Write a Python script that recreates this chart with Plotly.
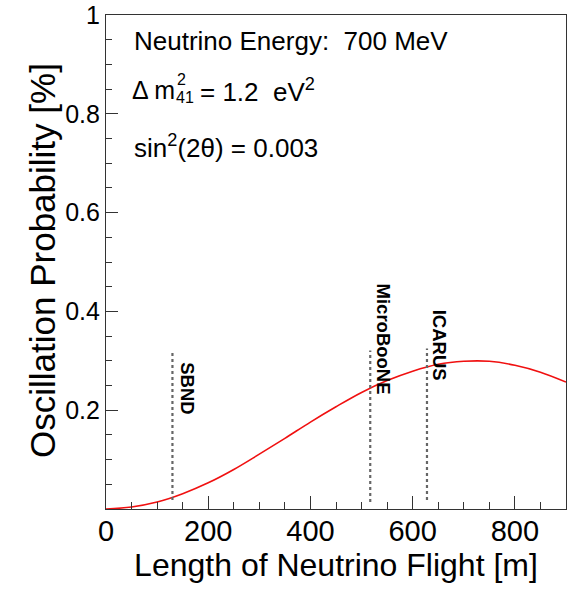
import plotly.graph_objects as go

# ---- data ----
flight_length_m = [0, 50, 100, 150, 200, 250, 300, 350, 400, 450, 500, 550,
                   600, 650, 700, 750, 800, 850, 900]
osc_prob_pct = [0.000, 0.004, 0.014, 0.031, 0.053, 0.080, 0.111, 0.143, 0.176,
                0.207, 0.236, 0.260, 0.279, 0.293, 0.299, 0.299, 0.291, 0.277, 0.257]

detectors = ["SBND", "MicroBooNE", "ICARUS"]
detector_baseline_m = [130, 517, 628]
detector_line_top = [0.317, 0.321, 0.325]
detector_line_bottom = [0.018, 0.014, 0.018]

x_tick_vals = [0, 200, 400, 600, 800]
x_tick_text = ["0", "200", "400", "600", "800"]
y_tick_vals = [0.2, 0.4, 0.6, 0.8, 1.0]
y_tick_text = ["0.2", "0.4", "0.6", "0.8", "1"]

FONT = "Liberation Sans, Arial, Helvetica, sans-serif"

# target plot area in page pixels (body margin removed below)
L, R, T, B = 106, 566, 15, 509
W, H = 583, 592


def fx(px):
    return (px - L) / (R - L)


def fy(py):
    return (B - py) / (B - T)


fig = go.Figure()

fig.add_trace(go.Scatter(
    x=flight_length_m, y=osc_prob_pct, mode="lines",
    line=dict(color="#f01010", width=1.6, shape="spline", smoothing=1.0),
    showlegend=False, hoverinfo="skip"))

label_dx = [29, 25, 25]
label_y = [0.244, 0.345, 0.331]
for name, xb, yt, yb, dx, ly in zip(detectors, detector_baseline_m, detector_line_top,
                                     detector_line_bottom, label_dx, label_y):
    fig.add_trace(go.Scatter(
        x=[xb, xb], y=[yb, yt], mode="lines",
        line=dict(color="#666666", width=2.2, dash="dot"),
        showlegend=False, hoverinfo="skip"))
    fig.add_annotation(x=xb + dx, y=ly, xref="x", yref="y", text="<b>%s</b>" % name,
                       textangle=90, showarrow=False,
                       font=dict(family=FONT, size=18.5, color="black"),
                       xanchor="center", yanchor="middle")

txt = dict(family=FONT, size=26, color="black")
small = dict(family=FONT, size=16, color="black")
annots = [
    (132, 41, "Neutrino Energy:\u00a0\u00a0700 MeV", txt),
    (130, 90, "\u0394 m", dict(family=FONT, size=25, color="black")),
    (175, 80, "2", small),
    (174, 98, "41", small),
    (198, 90, "= 1.2\u00a0\u00a0eV<sup>2</sup>", txt),
    (132, 146, "sin<sup>2</sup>(2\u03b8) = 0.003", txt),
]
for px, py, t, f in annots:
    fig.add_annotation(x=fx(px), y=fy(py), xref="paper", yref="paper", text=t,
                       showarrow=False, font=f, xanchor="left", yanchor="middle")

# y-axis title
fig.add_annotation(x=fx(42), y=fy(261), xref="paper", yref="paper",
                   text="Oscillation Probability [%]", textangle=-90, showarrow=False,
                   font=dict(family=FONT, size=35, color="black"),
                   xanchor="center", yanchor="middle")

fig.update_layout(
    width=W, height=H,
    margin=dict(l=L, r=W - R, t=T, b=H - B, autoexpand=False),
    paper_bgcolor="white", plot_bgcolor="white",
    font=dict(family=FONT, color="black"),
    xaxis=dict(range=[0, 900], tickvals=x_tick_vals, ticktext=x_tick_text,
               ticks="inside", ticklen=13, tickwidth=1, tickcolor="#333",
               minor=dict(dtick=50, ticks="inside", ticklen=7, tickcolor="#333", showgrid=False),
               showline=True, linecolor="#333", linewidth=1.2, mirror=True,
               showgrid=False, zeroline=False, automargin=False,
               ticklabelstandoff=-4,
               tickfont=dict(family=FONT, size=29, color="black"),
               title=dict(text="Length of Neutrino Flight [m]",
                          font=dict(family=FONT, size=32, color="black"), standoff=7)),
    yaxis=dict(range=[0, 1], tickvals=y_tick_vals, ticktext=y_tick_text,
               ticks="inside", ticklen=12, tickwidth=1, tickcolor="#333",
               minor=dict(dtick=0.05, ticks="inside", ticklen=6, tickcolor="#333", showgrid=False),
               showline=True, linecolor="#333", linewidth=1.2, mirror=True,
               showgrid=False, zeroline=False, automargin=False,
               tickfont=dict(family=FONT, size=25, color="black")),
)

fig.write_html("out.html", config={"displayModeBar": False},
               post_script="document.body.style.margin='0';document.body.style.padding='0';"
                           "document.body.style.overflow='hidden';")
